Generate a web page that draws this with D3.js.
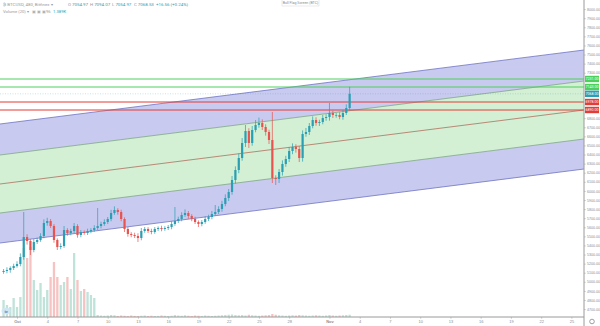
<!DOCTYPE html>
<html>
<head>
<meta charset="utf-8">
<script src="https://cdn.jsdelivr.net/npm/d3@7"></script>
<style>
    html, body { margin: 0; padding: 0; background: #fff; overflow: hidden; }
    svg { display: block; font-family: Roboto, "Liberation Sans", sans-serif; }
</style>
</head>
<body>
<div id="chart"></div>
<script>
// ---- Data (8h candles, BTC/USD) ----
const candleStart = Date.UTC(2017, 8, 29, 16);   // first candle
const candleHours = 8;
const firstOpen = 5108;

const closes = [
    5119, 5130, 5152, 5174, 5196, 5273, 5493, 5449, 5350, 5438,
    5460, 5504, 5647, 5669, 5614, 5460, 5383, 5394, 5570, 5537,
    5559, 5614, 5515, 5548, 5537, 5559, 5570, 5592, 5614, 5636,
    5658, 5691, 5757, 5790, 5768, 5691, 5581, 5526, 5515, 5504,
    5482, 5559, 5581, 5559, 5548, 5581, 5592, 5581, 5592, 5603,
    5636, 5669, 5691, 5735, 5757, 5724, 5691, 5658, 5636, 5658,
    5691, 5713, 5746, 5768, 5801, 5856, 5922, 5988, 6120, 6230,
    6362, 6527, 6659, 6527, 6670, 6725, 6747, 6703, 6648, 6560,
    6142, 6131, 6208, 6296, 6351, 6439, 6483, 6461, 6362, 6626,
    6648, 6714, 6780, 6747, 6758, 6802, 6813, 6857, 6835, 6835,
    6813, 6857, 6912, 7068
];

// wick length above / below the body, in USD
const wickUp = [
    22, 30, 18, 25, 30, 40, 275, 30, 20, 33,
    25, 30, 40, 35, 22, 20, 18, 30, 44, 20,
    25, 33, 20, 22, 18, 25, 20, 30, 198, 25,
    30, 22, 35, 40, 20, 25, 18, 22, 20, 25,
    30, 33, 22, 20, 25, 22, 18, 25, 20, 22,
    30, 154, 25, 30, 40, 22, 20, 25, 18, 22,
    30, 25, 33, 77, 30, 35, 40, 33, 44, 40,
    50, 55, 66, 30, 44, 55, 60, 40, 30, 25,
    308, 30, 33, 40, 35, 44, 40, 30, 33, 40,
    44, 33, 40, 30, 25, 33, 30, 110, 25, 22,
    30, 33, 40, 77
];
const wickDown = [
    20, 25, 30, 22, 18, 25, 30, 40, 55, 25,
    22, 20, 25, 30, 22, 30, 33, 25, 20, 30,
    25, 22, 30, 25, 20, 22, 25, 20, 22, 25,
    20, 22, 25, 20, 30, 25, 33, 30, 25, 22,
    44, 25, 20, 22, 25, 20, 22, 25, 20, 22,
    25, 20, 22, 25, 20, 30, 25, 22, 33, 25,
    20, 22, 25, 20, 22, 30, 25, 33, 30, 40,
    35, 30, 44, 55, 30, 25, 30, 33, 40, 44,
    55, 66, 44, 40, 30, 33, 35, 40, 44, 40,
    30, 33, 25, 30, 33, 25, 30, 40, 33, 30,
    25, 30, 22, 25
];

const volumes = [
    340, 240, 200, 380, 200, 400, 1380, 1180, 1400, 740,
    540, 680, 400, 540, 800, 1100, 800, 640, 700, 800,
    560, 1280, 740, 520, 560, 500, 440, 380, 40, 30,
    25, 30, 40, 35, 20, 30, 25, 20, 30, 22,
    20, 25, 30, 20, 25, 20, 22, 30, 25, 20,
    25, 40, 30, 25, 35, 25, 20, 30, 25, 22,
    30, 25, 20, 25, 30, 35, 40, 45, 50, 40,
    35, 40, 30, 45, 35, 30, 25, 30, 35, 40,
    60, 45, 35, 30, 25, 30, 35, 30, 40, 35,
    30, 25, 30, 35, 30, 25, 30, 40, 30, 25,
    30, 35, 40, 45
];

// Parallel channel: price of each of the 5 lines at left and right edge
const channelStartLevels = [6736, 6395, 6076, 5757, 5427];
const channelEndLevels   = [7550, 7209, 6890, 6571, 6241];

// Horizontal levels (green resistance, red support)
const levelPrices = [7231, 7143, 6978, 6890];
const levelKinds  = ["green", "green", "red", "red"];

// Axis ticks
const priceTicks = [
    4700, 4800, 4900, 5000, 5100, 5200, 5300, 5400, 5500, 5600,
    5700, 5800, 5900, 6000, 6100, 6200, 6300, 6400, 6500, 6600,
    6700, 6800, 6900, 7000, 7100, 7200, 7300, 7400, 7500, 7600,
    7700, 7800, 7900, 8000
];
const timeTickDates = [
    "2017-10-01", "2017-10-04", "2017-10-07", "2017-10-10", "2017-10-13",
    "2017-10-16", "2017-10-19", "2017-10-22", "2017-10-25", "2017-10-28",
    "2017-11-01", "2017-11-04", "2017-11-07", "2017-11-10", "2017-11-13",
    "2017-11-16", "2017-11-19", "2017-11-22", "2017-11-25"
];
const timeTickLabels = [
    "Oct", "4", "7", "10", "13", "16", "19", "22", "25", "28",
    "Nov", "4", "7", "10", "13", "16", "19", "22", "25"
];

// ---- Chart ----
const W = 600, H = 326;
const plotW = 584, plotH = 317;

const colors = {
    up: "#2a9fb3",
    down: "#e8534f",
    volUp: "#bfe2d9",
    volDown: "#f6c3c2",
    purple: "rgba(112, 116, 214, 0.38)",
    green: "rgba(120, 205, 125, 0.33)",
    purpleLine: "#6f73c2",
    greenLine: "#7da787",
    midLine: "#b0705e",
    green2: "#4cd05a",
    red: "#e23c36",
    axis: "#8c8c8c"
};

const svg = d3.select("#chart").append("svg")
    .attr("width", W)
    .attr("height", H);

svg.append("rect").attr("width", W).attr("height", H).attr("fill", "#fff");

svg.append("clipPath").attr("id", "clip")
    .append("rect").attr("width", plotW).attr("height", plotH);

const x = d3.scaleUtc()
    .domain([new Date(Date.UTC(2017, 8, 29, 7, 30)), new Date(Date.UTC(2017, 10, 26, 6, 0))])
    .range([0, plotW]);

const y = d3.scaleLinear()
    .domain([8100 - 11 * plotH, 8100])
    .range([plotH, 0]);

const vy = d3.scaleLinear()
    .domain([0, 1400])
    .range([plotH, plotH - 70]);

const candles = closes.map(function(c, i) {
    const o = i === 0 ? firstOpen : closes[i - 1];
    return {
        t: new Date(candleStart + i * candleHours * 3600e3),
        o: o,
        c: c,
        h: Math.max(o, c) + wickUp[i],
        l: Math.min(o, c) - wickDown[i],
        v: volumes[i]
    };
});

const plot = svg.append("g").attr("clip-path", "url(#clip)");

// Channel bands
const chT = x.domain();
const bandArea = d3.area()
    .x(d => x(d.t))
    .y0(d => y(d.lo))
    .y1(d => y(d.hi));

[[0, 1, colors.purple], [1, 3, colors.green], [3, 4, colors.purple]].forEach(function(b) {
    const pts = [0, 1].map(j => ({
        t: chT[j],
        hi: (j ? channelEndLevels : channelStartLevels)[b[0]],
        lo: (j ? channelEndLevels : channelStartLevels)[b[1]]
    }));
    plot.append("path")
        .datum(pts)
        .attr("fill", b[2])
        .attr("d", bandArea);
});

const chLine = d3.line().x(d => x(d.t)).y(d => y(d.p));
const chColors = [colors.purpleLine, colors.greenLine, colors.midLine, colors.greenLine, colors.purpleLine];
channelStartLevels.forEach(function(p0, k) {
    plot.append("path")
        .datum([{ t: chT[0], p: p0 }, { t: chT[1], p: channelEndLevels[k] }])
        .attr("fill", "none")
        .attr("stroke", chColors[k])
        .attr("stroke-width", 0.8)
        .attr("d", chLine);
});

// Horizontal levels
levelPrices.forEach(function(p, i) {
    plot.append("line")
        .attr("x1", 0).attr("x2", plotW)
        .attr("y1", y(p)).attr("y2", y(p))
        .attr("stroke", levelKinds[i] === "green" ? colors.green2 : colors.red)
        .attr("stroke-width", 1);
});

// Last price line
const last = candles[candles.length - 1];
plot.append("line")
    .attr("x1", 0).attr("x2", plotW)
    .attr("y1", y(last.c)).attr("y2", y(last.c))
    .attr("stroke", colors.up)
    .attr("stroke-opacity", 0.45)
    .attr("stroke-width", 0.6)
    .attr("stroke-dasharray", "1,1.5");

// Volume
const barW = 2.3;
plot.selectAll(".vol")
    .data(candles)
    .enter()
    .append("rect")
    .attr("x", d => x(d.t) - barW / 2)
    .attr("y", d => vy(d.v))
    .attr("width", barW)
    .attr("height", d => plotH - vy(d.v))
    .attr("fill", d => d.c >= d.o ? colors.volUp : colors.volDown);

// Candles
const cg = plot.selectAll(".candle")
    .data(candles)
    .enter()
    .append("g");

cg.append("line")
    .attr("x1", d => x(d.t)).attr("x2", d => x(d.t))
    .attr("y1", d => y(d.h)).attr("y2", d => y(d.l))
    .attr("stroke", d => d.c >= d.o ? colors.up : colors.down)
    .attr("stroke-width", 0.7);

cg.append("rect")
    .attr("x", d => x(d.t) - 1.1)
    .attr("y", d => y(Math.max(d.o, d.c)))
    .attr("width", 2.2)
    .attr("height", d => Math.max(0.7, Math.abs(y(d.o) - y(d.c))))
    .attr("fill", d => d.c >= d.o ? colors.up : colors.down);

// Level labels on the price axis
const tags = levelPrices.map((p, i) => ({ p: p, fill: levelKinds[i] === "green" ? colors.green2 : colors.red }));
tags.push({ p: last.c, fill: colors.up });

// Right price axis (tick labels hidden where a level tag sits on top)
const visibleTicks = priceTicks.filter(p => tags.every(t => Math.abs(y(p) - y(t.p)) > 5));
const yAxis = svg.append("g")
    .attr("transform", `translate(${plotW},0)`)
    .call(d3.axisRight(y).tickValues(visibleTicks).tickSize(1.5).tickFormat(d3.format(".2f")));
yAxis.select(".domain").attr("stroke", "#9a9a9a").attr("d", `M0,0V${H}`);
yAxis.selectAll(".tick line").attr("stroke", "#b5b5b5");
yAxis.selectAll("text")
    .attr("x", 3)
    .attr("fill", colors.axis)
    .style("font-size", "3.6px");

// Bottom time axis
const tickDates = timeTickDates.map(s => new Date(s + "T00:00:00Z"));
const xAxis = svg.append("g")
    .attr("transform", `translate(0,${plotH})`)
    .call(d3.axisBottom(x).tickValues(tickDates).tickSize(1.5)
        .tickFormat((d, i) => timeTickLabels[i]));
xAxis.select(".domain").attr("stroke", "#9a9a9a").attr("d", `M0,0H${plotW}`);
xAxis.selectAll(".tick line").attr("stroke", "#b5b5b5");
xAxis.selectAll("text")
    .attr("y", 3)
    .attr("fill", colors.axis)
    .style("font-size", "4px")
    .style("font-weight", (d, i) => timeTickLabels[i].length === 3 ? "bold" : "normal");

const tg = svg.selectAll(".tag")
    .data(tags)
    .enter()
    .append("g")
    .attr("transform", d => `translate(${plotW + 1},${y(d.p)})`);
tg.append("rect")
    .attr("x", 0).attr("y", -3.2)
    .attr("width", 14).attr("height", 6.4)
    .attr("fill", d => d.fill);
tg.append("text")
    .attr("x", 7).attr("y", 1.3)
    .attr("text-anchor", "middle")
    .attr("fill", "#fff")
    .style("font-size", "3.6px")
    .text(d => d3.format(".2f")(d.p));

// Legend / header
const header = svg.append("text")
    .attr("x", 3).attr("y", 6)
    .style("font-size", "4.4px")
    .attr("fill", "#9a9a9a");
header.append("tspan").text("₿ BTCUSD, 480, Bitfinex ▾");
const ohlc = [["O", "7054.97"], ["H", "7094.07"], ["L", "7054.97"], ["C", "7068.53"]];
ohlc.forEach(function(v, i) {
    header.append("tspan").attr("x", 68 + i * 22).text(v[0]);
    header.append("tspan").attr("dx", 1).attr("fill", colors.up).text(v[1]);
});
header.append("tspan").attr("x", 156).attr("fill", colors.up).text("+16.56 (+0.24%)");

const vlabel = svg.append("text")
    .attr("x", 3).attr("y", 13)
    .style("font-size", "4.2px")
    .attr("fill", "#9a9a9a");
vlabel.append("tspan").text("Volume (20) ▾");
vlabel.append("tspan").attr("x", 32).attr("fill", "#b0b0b0").text("▣ ▣ ▣");
vlabel.append("tspan").attr("x", 46).attr("fill", "#9a9a9a").text("96");
vlabel.append("tspan").attr("x", 53).attr("fill", colors.up).text("1.389K");

// Study title tag (top centre)
svg.append("rect")
    .attr("x", 282).attr("y", -1).attr("width", 37).attr("height", 7)
    .attr("fill", "#fff").attr("stroke", "#d6d6d6").attr("stroke-width", 0.5);
svg.append("text")
    .attr("x", 300.5).attr("y", 3.8)
    .attr("text-anchor", "middle")
    .attr("fill", "#8a8a8a")
    .style("font-size", "3.6px")
    .text("Bull Flag Screen (BTC)");

// Logo bottom-left and gear icon bottom-right
svg.append("ellipse")
    .attr("cx", 6).attr("cy", 311).attr("rx", 4.5).attr("ry", 3.2)
    .attr("fill", "#cfe6f3");
svg.append("text")
    .attr("x", 6).attr("y", 312.5)
    .attr("text-anchor", "middle")
    .attr("fill", "#2d88c4")
    .style("font-size", "3.8px")
    .style("font-weight", "bold")
    .text("tv");
svg.append("circle")
    .attr("cx", 592).attr("cy", 321.5).attr("r", 2.3)
    .attr("fill", "none").attr("stroke", "#888").attr("stroke-width", 0.8);
</script>
</body>
</html>
